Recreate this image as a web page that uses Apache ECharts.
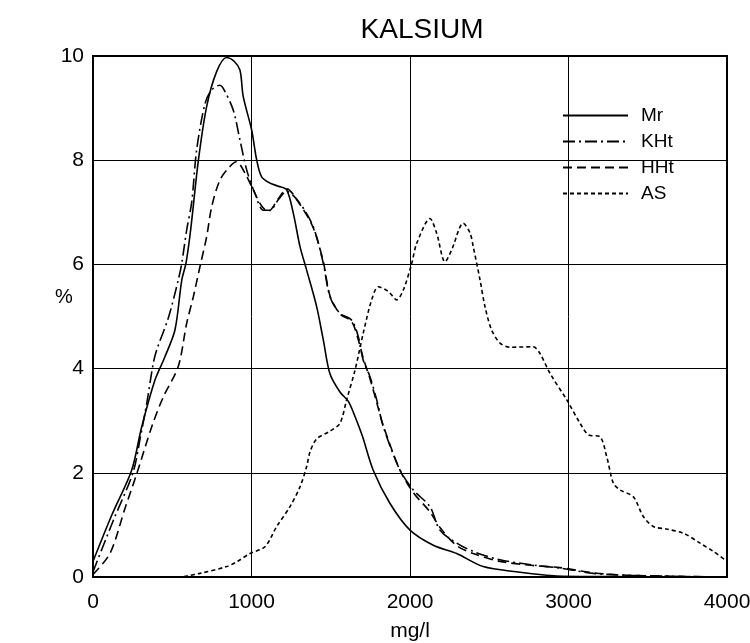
<!DOCTYPE html>
<html>
<head>
<meta charset="utf-8">
<script src="https://cdn.jsdelivr.net/npm/echarts@6/dist/echarts.min.js"></script>
<style>html,body{margin:0;padding:0;background:#fff;}#c{width:750px;height:643px;}</style>
</head>
<body>
<div id="c"></div>
<script>
var titleText = 'KALSIUM';
var xName = 'mg/l';
var yName = '%';
var seriesNames = ['Mr', 'KHt', 'HHt', 'AS'];

var mr = [[0,0.3],[120,1.2],[244,2.05],[307,2.88],[391,3.78],[450,4.2],[517,4.74],[560,5.7],[587,6.03],[616,6.66],[665,8.0],[717,9.03],[780,9.7],[843,9.97],[890,9.9],[927,9.73],[948,9.22],[1001,8.58],[1033,8.0],[1064,7.68],[1117,7.56],[1170,7.5],[1222,7.43],[1264,6.98],[1306,6.34],[1348,5.89],[1411,5.19],[1453,4.55],[1495,3.9],[1558,3.55],[1611,3.37],[1653,3.08],[1700,2.7],[1768,2.05],[1874,1.41],[2000,0.9],[2147,0.61],[2295,0.45],[2462,0.2],[2673,0.1],[2925,0.02],[3200,0.01],[4000,0]];

var kht = [[0,0.1],[130,1.1],[252,2.0],[300,2.7],[339,3.33],[380,4.1],[402,4.36],[475,4.97],[538,5.7],[560,6.02],[591,6.66],[623,7.2],[654,8.2],[707,9.09],[749,9.35],[801,9.44],[822,9.38],[885,8.96],[927,8.39],[970,7.81],[1022,7.36],[1074,7.04],[1117,7.04],[1169,7.24],[1222,7.40],[1306,7.17],[1390,6.72],[1453,6.02],[1495,5.38],[1558,5.06],[1632,4.93],[1674,4.61],[1705,4.16],[1748,3.84],[1790,3.40],[1832,2.88],[1937,2.05],[2021,1.67],[2126,1.35],[2189,0.90],[2295,0.65],[2399,0.49],[2568,0.33],[2778,0.23],[2946,0.17],[3157,0.07],[3400,0.03],[4000,0]];

var hht = [[0,0.05],[107,0.45],[200,1.3],[278,2.0],[370,2.88],[444,3.46],[538,4.04],[591,4.87],[633,5.38],[675,5.96],[717,6.53],[749,7.11],[801,7.62],[864,7.88],[906,7.97],[959,7.75],[1011,7.43],[1064,7.12],[1106,7.02],[1169,7.26],[1222,7.45],[1306,7.15],[1390,6.7],[1453,6.05],[1495,5.4],[1558,5.05],[1632,4.9],[1674,4.55],[1705,4.2],[1748,3.8],[1790,3.35],[1832,2.9],[1937,2.05],[2021,1.62],[2126,1.25],[2189,0.95],[2295,0.6],[2399,0.45],[2568,0.3],[2778,0.22],[2946,0.18],[3157,0.08],[3400,0.03],[4000,0]];

var as = [[0,0],[550,0],[591,0.02],[675,0.07],[843,0.2],[906,0.29],[990,0.45],[1085,0.58],[1159,0.97],[1243,1.35],[1306,1.73],[1348,2.12],[1369,2.4],[1411,2.65],[1495,2.8],[1558,2.95],[1600,3.4],[1653,3.97],[1705,4.68],[1758,5.32],[1800,5.57],[1863,5.48],[1916,5.32],[1958,5.51],[2011,6.02],[2042,6.4],[2126,6.88],[2168,6.6],[2221,6.05],[2263,6.28],[2336,6.79],[2379,6.6],[2399,6.34],[2442,5.7],[2473,5.19],[2515,4.74],[2568,4.49],[2631,4.41],[2778,4.42],[2820,4.29],[2883,3.91],[2989,3.40],[3073,2.95],[3125,2.73],[3199,2.69],[3241,2.31],[3283,1.80],[3325,1.67],[3409,1.54],[3472,1.16],[3535,0.97],[3620,0.92],[3725,0.84],[3830,0.65],[3914,0.49],[3987,0.33]];

var lineTypes = ['solid', [12,4,2,4], [9,5], [4,3]];
var seriesData = [mr, kht, hht, as];

var FONT = "'Liberation Sans', Arial, sans-serif";
var chart = echarts.init(document.getElementById('c'), null, {renderer: 'canvas'});
var series = seriesNames.map(function (n, i) {
  return {
    name: n, type: 'line', data: seriesData[i], symbol: 'none', smooth: 0.3,
    lineStyle: {color: '#000', width: 1.6, type: lineTypes[i]},
    itemStyle: {color: '#000'}
  };
});
chart.setOption({
  animation: false,
  backgroundColor: '#fff',
  title: {text: titleText, left: 417, top: 11, textAlign: 'center',
    textStyle: {fontFamily: FONT, fontSize: 28, fontWeight: 'normal', color: '#000'}},
  grid: {left: 93, right: 23, top: 56, bottom: 66, show: true, borderColor: '#000', borderWidth: 2,
    containLabel: false, outerBoundsMode: 'none'},
  legend: {
    orient: 'vertical', left: 557, top: 101, itemWidth: 65, itemHeight: 14, itemGap: 7,
    data: seriesNames,
    itemStyle: {opacity: 0},
    textStyle: {fontFamily: FONT, fontSize: 19, color: '#000', padding: [0,0,0,8]}
  },
  xAxis: {
    type: 'value', min: 0, max: 4000, interval: 1000,
    name: xName, nameLocation: 'middle', nameGap: 44,
    nameTextStyle: {fontFamily: FONT, fontSize: 21, color: '#000'},
    axisLine: {show: true, lineStyle: {color: '#000', width: 2}},
    axisTick: {show: false},
    axisLabel: {fontFamily: FONT, fontSize: 21, color: '#000', margin: 15, formatter: function (v) { return String(v); }},
    splitLine: {show: true, lineStyle: {color: '#000', width: 1}}
  },
  yAxis: {
    type: 'value', min: 0, max: 10, interval: 2,
    axisLine: {show: true, lineStyle: {color: '#000', width: 2}},
    axisTick: {show: false},
    axisLabel: {fontFamily: FONT, fontSize: 21, color: '#000', margin: 9},
    splitLine: {show: true, lineStyle: {color: '#000', width: 1}}
  },
  graphic: [{type: 'text', left: 55, top: 287, style: {text: yName, font: "20px 'Liberation Sans', Arial, sans-serif", fill: '#000'}}],
  series: series
});
</script>
</body>
</html>
